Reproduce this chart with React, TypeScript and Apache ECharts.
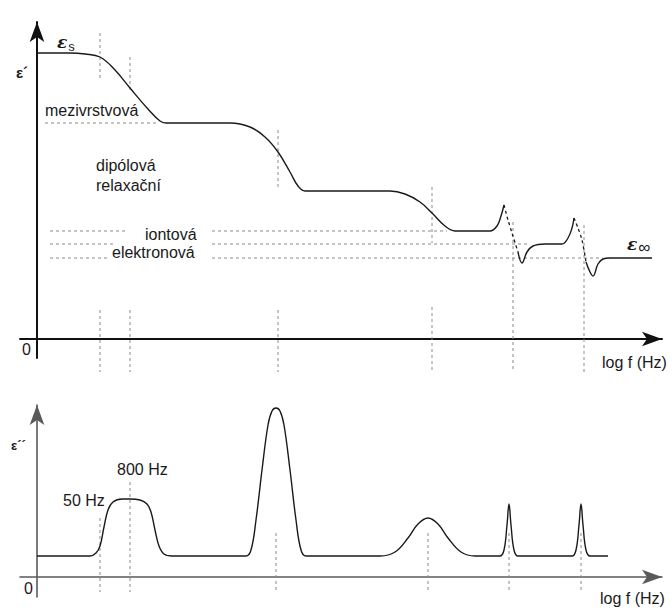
import React, { useEffect, useRef } from "react";
import * as echarts from "echarts";

// ---- data (arbitrary schematic units: x = log f, y = permittivity) ----
// ε' (real part) – solid pieces
const realSolidA: number[][] = [
  [0, 28.6], [3.3, 28.6], [4.8, 28.5], [6.3, 28.2], [7.8, 26.9], [9.3, 25.1], [11.1, 23.0],
  [12.3, 21.8], [12.9, 21.6], [19.3, 21.6], [21.3, 21.2], [22.8, 20.2], [24.1, 18.7],
  [25.3, 16.7], [26.1, 15.3], [26.8, 14.8], [35.3, 14.8], [36.8, 14.5], [38.3, 13.7],
  [39.5, 12.6], [40.8, 11.3], [41.8, 10.8], [45.3, 10.8], [46.0, 11.3], [46.4, 12.3], [46.7, 13.4],
];
const realDashedA: number[][] = [[46.7, 13.4], [47.1, 11.9], [47.5, 10.6], [48.1, 8.7]];
const realSolidB: number[][] = [
  [48.1, 8.7], [48.5, 7.6], [49.0, 8.7], [49.6, 9.3], [50.8, 9.5], [52.5, 9.5],
  [53.1, 10.1], [53.5, 11.1], [53.7, 12.1],
];
const realDashedB: number[][] = [[53.7, 12.1], [54.1, 11.1], [54.5, 9.9], [54.9, 7.7]];
const realSolidC: number[][] = [
  [54.9, 7.7], [55.3, 6.7], [55.6, 6.3], [56.1, 7.5], [56.6, 8.0], [57.3, 8.1], [61.5, 8.1],
];

// ε'' (imaginary part)
const imagCurve: number[][] = [
  [0, 2.1], [5.3, 2.1], [5.9, 2.4], [6.3, 3.1], [6.7, 5.0], [7.1, 6.7], [7.6, 7.5], [8.5, 7.8],
  [9.3, 7.8], [10.3, 7.7], [11.0, 7.3], [11.4, 6.5], [11.8, 4.7], [12.2, 3.1], [12.7, 2.3],
  [13.5, 2.1], [20.9, 2.1], [21.4, 2.7], [21.9, 5.7], [22.5, 10.7], [23.1, 15.2], [23.5, 16.6],
  [23.9, 16.9], [24.3, 16.6], [24.7, 15.2], [25.3, 10.7], [25.9, 5.7], [26.4, 2.7], [26.9, 2.1],
  [34.3, 2.1], [35.8, 2.5], [37.1, 3.9], [38.1, 5.3], [39.1, 5.9], [40.1, 5.3], [41.1, 3.9],
  [42.4, 2.5], [43.8, 2.1], [46.3, 2.1], [46.7, 2.7], [47.0, 5.2], [47.2, 7.3], [47.4, 5.2],
  [47.7, 2.7], [48.1, 2.1], [53.5, 2.1], [53.9, 2.7], [54.2, 5.2], [54.4, 7.3], [54.6, 5.2],
  [54.9, 2.7], [55.3, 2.1], [57.1, 2.1],
];

// dashed guides: vertical [x, yFrom, yTo], horizontal [y, xFrom, xTo]
const topVDash: number[][] = [
  [6.3, 30.6, 26.1], [9.3, 28.2, 24.6], [24.1, 20.9, 15.2], [39.5, 15.2, 9.6],
  [6.3, 2.9, -3.3], [9.3, 2.9, -3.3], [24.1, 2.9, -3.3], [39.5, 3.2, -3.3],
  [47.6, 11.7, -3.3], [54.7, 11.4, -3.3],
];
const topHDash: number[][] = [
  [21.6, 0.8, 12.0],
  [10.8, 1.3, 9.1], [10.8, 17.5, 41.0],
  [9.5, 1.3, 7.6], [9.5, 17.5, 49.3],
  [8.1, 1.3, 7.1], [8.1, 17.5, 56.6],
];
const bottomVDash: number[][] = [
  [6.3, 5.9, -1.5], [9.3, 9.5, -1.5], [23.9, 4.4, -1.5], [39.1, 4.4, -1.5],
  [47.2, 4.4, -1.5], [54.4, 4.4, -1.5],
];

const FONT = "'Liberation Sans', Arial, sans-serif";

export default function App() {
  const ref = useRef<HTMLDivElement>(null);
  useEffect(() => {
    if (!ref.current) return;
    const chart = echarts.init(ref.current, undefined, { renderer: "svg" });

    const dashStyle = { color: "#8a8a8a", width: 1, type: [3, 3] as any };
    const curveStyle = { color: "#1a1a1a", width: 1.4 };
    const line = (data: number[][], gi: number, style: any, smooth: number | boolean) => ({
      type: "line",
      xAxisIndex: gi,
      yAxisIndex: gi,
      data,
      symbol: "none",
      showSymbol: false,
      smooth,
      clip: false,
      silent: true,
      lineStyle: style,
      z: 3,
    });
    const series: any[] = [];
    topVDash.forEach(([x, a, b]) => series.push(line([[x, a], [x, b]], 0, dashStyle, false)));
    topHDash.forEach(([y, a, b]) => series.push(line([[a, y], [b, y]], 0, dashStyle, false)));
    bottomVDash.forEach(([x, a, b]) => series.push(line([[x, a], [x, b]], 1, dashStyle, false)));
    series.push(line(realSolidA, 0, curveStyle, 0.4));
    series.push(line(realDashedA, 0, { color: "#1a1a1a", width: 1.3, type: [3, 3] }, 0.3));
    series.push(line(realSolidB, 0, curveStyle, 0.4));
    series.push(line(realDashedB, 0, { color: "#1a1a1a", width: 1.3, type: [3, 3] }, 0.3));
    series.push(line(realSolidC, 0, curveStyle, 0.4));
    series.push(line(imagCurve, 1, curveStyle, 0.4));

    const axisX = (gi: number, color: string, w: number) => ({
      type: "value",
      gridIndex: gi,
      min: -1.7,
      max: 62.5,
      axisLine: { show: true, onZero: true, symbol: ["none", "arrow"], symbolSize: [11, 20], lineStyle: { color, width: w } },
      axisTick: { show: false },
      axisLabel: { show: false },
      splitLine: { show: false },
    });
    const axisY = (gi: number, min: number, max: number, color: string, w: number) => ({
      type: "value",
      gridIndex: gi,
      min,
      max,
      axisLine: { show: true, onZero: true, symbol: ["none", "arrow"], symbolSize: [11, 20], lineStyle: { color, width: w } },
      axisTick: { show: false },
      axisLabel: { show: false },
      splitLine: { show: false },
    });

    const txt = (text: string, x: number, y: number, size = 16, extra: any = {}) => ({
      type: "text",
      silent: true,
      z: 10,
      style: {
        text, x, y, fill: "#1a1a1a", font: `${size}px ${FONT}`,
        verticalAlign: "middle", textVerticalAlign: "middle", align: "left", textAlign: "left",
        ...extra,
      },
    });
    const eps = (x: number, y: number, sub: string, subSize: number, pad: number) => ({
      type: "text",
      silent: true,
      z: 10,
      style: {
        x, y,
        text: `{e|ε}{s|${sub}}`,
        verticalAlign: "middle", textVerticalAlign: "middle",
        rich: {
          e: { fontFamily: "'DejaVu Serif', serif", fontStyle: "italic", fontSize: 17, fontWeight: "bold", fill: "#1a1a1a", color: "#1a1a1a" },
          s: { fontFamily: FONT, fontSize: subSize, fill: "#1a1a1a", color: "#1a1a1a", padding: [pad, 0, 0, 1] },
        },
      },
    });

    chart.setOption({
      animation: false,
      backgroundColor: "#ffffff",
      grid: [
        { left: 20, width: 642, top: 22, height: 336 },
        { left: 20, width: 642, top: 405, height: 192 },
      ],
      xAxis: [axisX(0, "#111111", 2), axisX(1, "#5a5a5a", 1.6)],
      yAxis: [axisY(0, -1.9, 31.7, "#111111", 2), axisY(1, -2.0, 17.2, "#5a5a5a", 1.6)],
      series,
      graphic: [
        eps(57, 42, "s", 13, 8),
        eps(627, 244, "∞", 17, 6),
        txt("ε´", 16, 72, 15, { font: `bold 15px ${FONT}` }),
        txt("ε´´", 11, 445, 13, { font: `bold 13px ${FONT}` }),
        txt("mezivrstvová", 45, 110),
        txt("dipólová", 96, 165),
        txt("relaxační", 96, 185),
        txt("iontová", 145, 234),
        txt("elektronová", 112, 252),
        txt("0", 22, 349),
        txt("0", 24, 588),
        txt("log f (Hz)", 602, 362),
        txt("log f (Hz)", 600, 598),
        txt("50 Hz", 63, 500),
        txt("800 Hz", 117, 469),
      ],
    });
    return () => chart.dispose();
  }, []);
  return (
    <div
      ref={ref}
      style={{ position: "absolute", left: 0, top: 0, width: 672, height: 608, background: "#fff" }}
    />
  );
}
